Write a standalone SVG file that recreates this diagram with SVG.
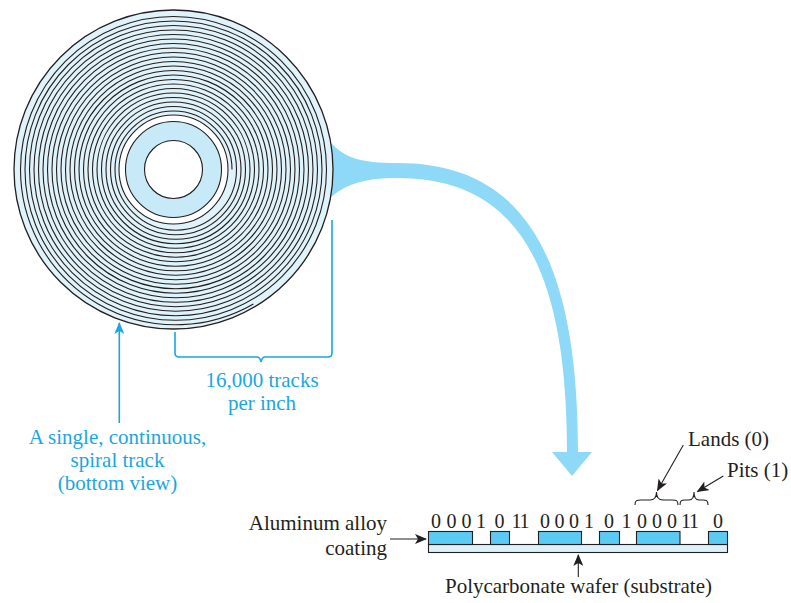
<svg xmlns="http://www.w3.org/2000/svg" width="791" height="603" viewBox="0 0 791 603">
  <style>
    .lbl { font-family: "Liberation Serif", "Times New Roman", serif; font-size: 21px; fill: #231f20; }
    .cyan { fill: #1aa7e0; }
    .digits { font-family: "Liberation Serif", "Times New Roman", serif; font-size: 20px; fill: #231f20; }
    .ink { fill: none; stroke: #231f20; stroke-width: 1.1; }
    .cline { fill: none; stroke: #1aa7e0; stroke-width: 1.6; }
    .land { fill: #5ccbf3; stroke: #231f20; stroke-width: 1.1; }
    .sub { fill: #dcf2fb; stroke: #231f20; stroke-width: 1.1; }
  </style>
  <defs>
    <marker id="headK" viewBox="0 0 12 10" refX="11" refY="5" markerWidth="12" markerHeight="10" markerUnits="userSpaceOnUse" orient="auto">
      <path d="M0,0 L12,5 L0,10 L3,5 Z" fill="#231f20"/>
    </marker>
    <marker id="headC" viewBox="0 0 12 10" refX="11" refY="5" markerWidth="12" markerHeight="10" markerUnits="userSpaceOnUse" orient="auto">
      <path d="M0,0 L12,5 L0,10 L3,5 Z" fill="#1aa7e0"/>
    </marker>
  </defs>

  <!-- broad flow arrow from disk edge down to the track cross-section -->
  <g id="flow-arrow">
    <path d="M330,142 C345,158 360,163 397,163 C520,163 578,250 578,452 L592,452 L572,476 L552,452 L567,452 C567,262 515,178 397,178 C362,178 345,185 330,198 Z" fill="#8ed9f7"/>
  </g>

  <!-- disk with spiral track -->
  <g id="disk">
    <circle cx="173.5" cy="169.5" r="159.5" fill="#e0f3fb" stroke="#231f20" stroke-width="1.3"/>
    <path class="ink" d="M232,169.5
      A58.5,58.5 0 0 0 115,169.5 A60.75,60.75 0 0 0 236.5,169.5
      A63,63 0 0 0 110.5,169.5 A65.25,65.25 0 0 0 241,169.5
      A67.5,67.5 0 0 0 106,169.5 A69.75,69.75 0 0 0 245.5,169.5
      A72,72 0 0 0 101.5,169.5 A74.25,74.25 0 0 0 250,169.5
      A76.5,76.5 0 0 0 97,169.5 A78.75,78.75 0 0 0 254.5,169.5
      A81,81 0 0 0 92.5,169.5 A83.25,83.25 0 0 0 259,169.5
      A85.5,85.5 0 0 0 88,169.5 A87.75,87.75 0 0 0 263.5,169.5
      A90,90 0 0 0 83.5,169.5 A92.25,92.25 0 0 0 268,169.5
      A94.5,94.5 0 0 0 79,169.5 A96.75,96.75 0 0 0 272.5,169.5
      A99,99 0 0 0 74.5,169.5 A101.25,101.25 0 0 0 277,169.5
      A103.5,103.5 0 0 0 70,169.5 A105.75,105.75 0 0 0 281.5,169.5
      A108,108 0 0 0 65.5,169.5 A110.25,110.25 0 0 0 286,169.5
      A112.5,112.5 0 0 0 61,169.5 A114.75,114.75 0 0 0 290.5,169.5
      A117,117 0 0 0 56.5,169.5 A119.25,119.25 0 0 0 295,169.5
      A121.5,121.5 0 0 0 52,169.5 A123.75,123.75 0 0 0 299.5,169.5
      A126,126 0 0 0 47.5,169.5 A128.25,128.25 0 0 0 304,169.5
      A130.5,130.5 0 0 0 43,169.5 A132.75,132.75 0 0 0 308.5,169.5
      A135,135 0 0 0 38.5,169.5 A137.25,137.25 0 0 0 313,169.5
      A139.5,139.5 0 0 0 34,169.5 A141.75,141.75 0 0 0 317.5,169.5
      A144,144 0 0 0 29.5,169.5 A146.25,146.25 0 0 0 322,169.5
      A148.5,148.5 0 0 0 25,169.5 A150.75,150.75 0 0 0 326.5,169.5
      A153,153 0 0 0 20.5,169.5 A155.25,155.25 0 0 0 253.4,303.9"/>
    <circle cx="173.5" cy="169.5" r="54.5" fill="#ffffff" stroke="#231f20" stroke-width="1.1"/>
    <circle cx="173.5" cy="169.5" r="48" fill="#c8e9f8" stroke="#231f20" stroke-width="1.1"/>
    <circle cx="173.5" cy="169.5" r="29" fill="#ffffff" stroke="#231f20" stroke-width="1.1"/>
  </g>

  <!-- cross-section of the track: substrate and aluminum lands -->
  <g id="track-section">
    <rect class="sub" x="428.5" y="544.5" width="299" height="8"/>
    <rect class="land" x="428.5" y="531.5" width="44" height="13"/>
    <rect class="land" x="490.5" y="531.5" width="19" height="13"/>
    <rect class="land" x="538.5" y="531.5" width="43" height="13"/>
    <rect class="land" x="599.5" y="531.5" width="20" height="13"/>
    <rect class="land" x="636.5" y="531.5" width="43.5" height="13"/>
    <rect class="land" x="708.5" y="531.5" width="19" height="13"/>
    <text class="digits" text-anchor="middle" y="528" x="436 451.5 466.5 481 499.5 516.5 524.5 545 559.5 574 589 609 626.5 642 657 672 686 694 718">0001011000101000110</text>
  </g>

  <!-- braces over the lands and pits -->
  <g id="braces">
    <path class="ink" d="M635,505 C635,500 637,500 641,500 L650,500 C655,500 656.5,497 656.5,492 C656.5,497 658,500 663,500 L672,500 C676,500 678,500 678,505"/>
    <path class="ink" d="M680,505 C680,500 682,500 685,500 L689,500 C693,500 694,497 694,492 C694,497 695,500 699,500 L703,500 C706,500 708,500 708,505"/>
  </g>

  <!-- connectors and brackets -->
  <g id="connectors">
    <path class="cline" d="M175,332 V353 Q175,357 179,357 H257 Q260,357 261,362 Q262,357 265,357 H328 Q332,357 332,353 V220"/>
    <line class="cline" x1="119.3" y1="423" x2="119.3" y2="323" marker-end="url(#headC)"/>
    <line class="ink" x1="683.3" y1="445" x2="657.5" y2="490.5" marker-end="url(#headK)"/>
    <line class="ink" x1="723.3" y1="476" x2="697.5" y2="491.5" marker-end="url(#headK)"/>
    <line class="ink" x1="390" y1="539" x2="426" y2="539" marker-end="url(#headK)"/>
    <line class="ink" x1="578.3" y1="577" x2="578.3" y2="555" marker-end="url(#headK)"/>
  </g>

  <!-- labels -->
  <g id="label-density">
    <text class="lbl cyan" x="262" y="387" text-anchor="middle">16,000 tracks</text>
    <text class="lbl cyan" x="262" y="410" text-anchor="middle">per inch</text>
  </g>
  <g id="label-spiral">
    <text class="lbl cyan" x="117.5" y="444" text-anchor="middle">A single, continuous,</text>
    <text class="lbl cyan" x="117.5" y="467" text-anchor="middle">spiral track</text>
    <text class="lbl cyan" x="117.5" y="490" text-anchor="middle">(bottom view)</text>
  </g>
  <g id="label-lands">
    <text class="lbl" x="688" y="446">Lands (0)</text>
  </g>
  <g id="label-pits">
    <text class="lbl" x="727" y="477">Pits (1)</text>
  </g>
  <g id="label-coating">
    <text class="lbl" x="387" y="530" text-anchor="end">Aluminum alloy</text>
    <text class="lbl" x="387" y="554.5" text-anchor="end">coating</text>
  </g>
  <g id="label-substrate">
    <text class="lbl" x="578.5" y="593" text-anchor="middle">Polycarbonate wafer (substrate)</text>
  </g>
</svg>
